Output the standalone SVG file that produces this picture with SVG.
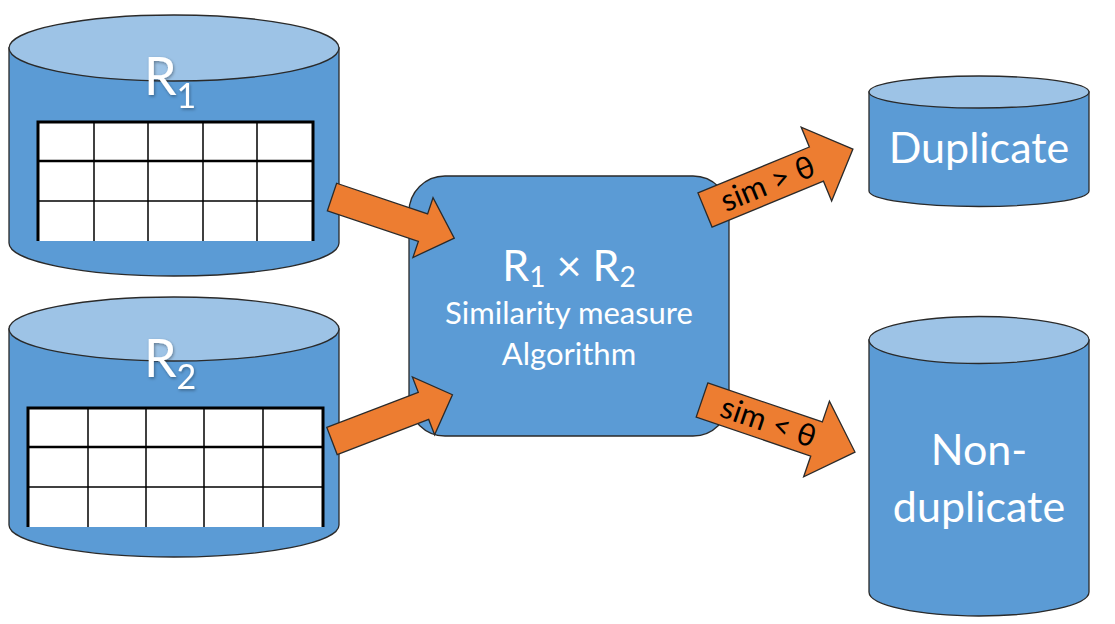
<svg xmlns="http://www.w3.org/2000/svg" width="1115" height="624" viewBox="0 0 1115 624">
<defs>
<style>
.body{fill:#5B9BD5;stroke:#2a2a2a;stroke-width:1.3}
.top{fill:#9DC3E6;stroke:#2a2a2a;stroke-width:1.3}
.arrow{fill:#ED7D31;stroke:#2a2a2a;stroke-width:1.3;stroke-linejoin:miter}
.wt{fill:#ffffff;font-family:Lato,"Open Sans",sans-serif}
.bt{fill:#000000;font-family:Lato,"Open Sans",sans-serif}
.grid{stroke:#000;stroke-width:1.5}
.gridb{stroke:#000;stroke-width:3}
</style>
<filter id="glow" x="-30%" y="-30%" width="160%" height="160%">
<feDropShadow dx="1" dy="1.5" stdDeviation="1.5" flood-color="#000" flood-opacity="0.35"/>
</filter>
</defs>

<g id="r1">
<path class="body" d="M9,48 L9,243 A165,33 0 0 0 339,243 L339,48 Z"/>
<ellipse class="top" cx="174" cy="48" rx="165" ry="33"/>
<rect x="38" y="121" width="275" height="120" fill="#fff"/>
<g class="grid">
<line x1="38" y1="201" x2="313" y2="201"/>
<line x1="94" y1="121" x2="94" y2="241"/>
<line x1="148" y1="121" x2="148" y2="241"/>
<line x1="203" y1="121" x2="203" y2="241"/>
<line x1="257" y1="121" x2="257" y2="241"/>
</g>
<line x1="38" y1="161" x2="313" y2="161" stroke="#000" stroke-width="2.5"/>
<path class="gridb" fill="none" d="M38,241 L38,122 L313,122 L313,241"/>
<text class="wt" x="144" y="95" font-size="52" filter="url(#glow)">R<tspan font-size="34" dy="13">1</tspan></text>
</g>

<g id="r2">
<path class="body" d="M9,329 L9,525 A165,32 0 0 0 339,525 L339,329 Z"/>
<ellipse class="top" cx="174" cy="329" rx="165" ry="32"/>
<rect x="28" y="407" width="295" height="120" fill="#fff"/>
<g class="grid">
<line x1="28" y1="487" x2="323" y2="487"/>
<line x1="88" y1="407" x2="88" y2="527"/>
<line x1="146" y1="407" x2="146" y2="527"/>
<line x1="204" y1="407" x2="204" y2="527"/>
<line x1="263" y1="407" x2="263" y2="527"/>
</g>
<line x1="28" y1="447" x2="323" y2="447" stroke="#000" stroke-width="2.5"/>
<path class="gridb" fill="none" d="M28,527 L28,408 L323,408 L323,527"/>
<text class="wt" x="144" y="377" font-size="52" filter="url(#glow)">R<tspan font-size="34" dy="12">2</tspan></text>
</g>

<g id="algo">
<rect class="body" x="409" y="176" width="320" height="260" rx="36" ry="36"/>
<text class="wt" x="569" y="281" font-size="43" text-anchor="middle">R<tspan font-size="28" dy="6">1</tspan><tspan dy="-6"> × R</tspan><tspan font-size="28" dy="6">2</tspan></text>
<text class="wt" x="569" y="324" font-size="31" text-anchor="middle">Similarity measure</text>
<text class="wt" x="569" y="365" font-size="31" text-anchor="middle">Algorithm</text>
</g>

<g id="duplicate">
<path class="body" d="M869,92 L869,191 A110,15.5 0 0 0 1089,191 L1089,92 Z"/>
<ellipse class="top" cx="979" cy="92" rx="110" ry="16"/>
<text class="wt" x="979" y="163" font-size="43" text-anchor="middle">Duplicate</text>
</g>

<g id="nonduplicate">
<path class="body" d="M869,340 L869,592 A110,24 0 0 0 1089,592 L1089,340 Z"/>
<ellipse class="top" cx="979" cy="340" rx="110" ry="23.5"/>
<text class="wt" x="979" y="465" font-size="43" text-anchor="middle">Non-</text>
<text class="wt" x="979" y="522" font-size="43" text-anchor="middle">duplicate</text>
</g>

<g id="connectors">
<g transform="translate(332,197) rotate(18.6)">
<polygon class="arrow" points="0,-14.5 96,-14.5 96,-31.5 129,0 96,31.5 96,14.5 0,14.5"/>
</g>
<g transform="translate(332,441) rotate(-21)">
<polygon class="arrow" points="0,-14.5 98,-14.5 98,-31 129,0 98,31 98,14.5 0,14.5"/>
</g>
<g transform="translate(705,210) rotate(-22.4)">
<polygon class="arrow" points="0,-18.5 120.5,-18.5 120.5,-40 160,0 120.5,40 120.5,18.5 0,18.5"/>
<text class="bt" x="68" y="10" font-size="31" text-anchor="middle">sim &gt; θ</text>
</g>
<g transform="translate(702,400) rotate(18.8)">
<polygon class="arrow" points="0,-18 121,-18 121,-40 161.6,0 121,40 121,18 0,18"/>
<text class="bt" x="70" y="10" font-size="31" text-anchor="middle">sim &lt; θ</text>
</g>
</g>
</svg>
